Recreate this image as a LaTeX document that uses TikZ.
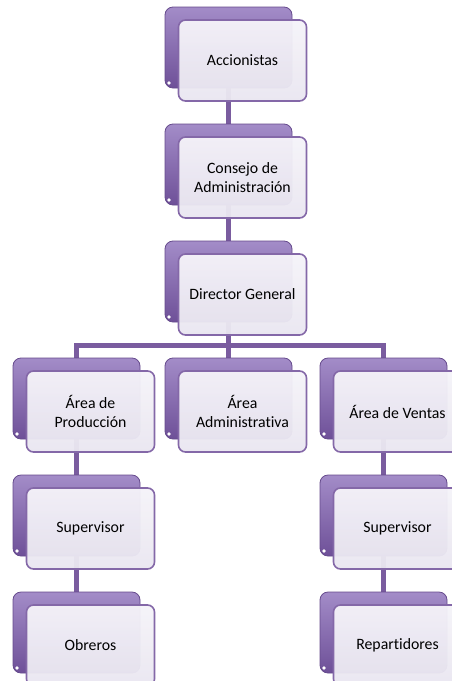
\documentclass[tikz,border=0pt]{standalone}
\usepackage{fontspec}
\setmainfont{Carlito}[RawFeature={-liga;-calt;-dlig}]
\usetikzlibrary{backgrounds}

\definecolor{platetop}{HTML}{A38CC8}
\definecolor{platebot}{HTML}{6E5098}
\definecolor{plateline}{HTML}{654A8C}
\definecolor{boxline}{HTML}{8468A8}
\definecolor{boxtop}{HTML}{F5F3F9}
\definecolor{boxbot}{HTML}{E9E6F0}
\definecolor{linkpurple}{HTML}{7A5C9F}

\begin{document}
\begin{tikzpicture}[x=1pt,y=-1pt,
  backbox/.style={rectangle, rounded corners=8pt, minimum width=127pt,
    minimum height=81pt, inner sep=0pt, draw=plateline, line width=0.8pt,
    top color=platetop, bottom color=platebot,
    path picture={\fill[white] ([shift={(4pt,5pt)}]path picture bounding box.south west) circle (1.8pt);}},
  unitbox/.style={rectangle, rounded corners=7pt, minimum width=128pt,
    minimum height=81pt, inner sep=2pt, draw=boxline, line width=1.6pt,
    top color=boxtop, bottom color=boxbot, fill opacity=0.96, text opacity=1,
    align=center, font=\fontsize{15.8}{19}\selectfont},
  link/.style={draw=linkpurple, line width=5pt}]
\useasboundingbox (0,0) rectangle (451,681);

% back plates
\node[backbox] (accb) at (228.5,47.5) {};
\node[backbox] (conb) at (228.5,164.5) {};
\node[backbox] (dirb) at (228.5,281.5) {};
\node[backbox] (prodb) at (76.5,398.5) {};
\node[backbox] (admb) at (228.5,398.5) {};
\node[backbox] (ventb) at (383.5,398.5) {};
\node[backbox] (sprodb) at (76.5,515.5) {};
\node[backbox] (sventb) at (383.5,515.5) {};
\node[backbox] (obrb) at (76.5,632.5) {};
\node[backbox] (repb) at (383.5,632.5) {};

% front boxes
\node[unitbox] (acc) at ([shift={(14pt,-13pt)}]accb.center) {Accionistas};
\node[unitbox] (con) at ([shift={(14pt,-13pt)}]conb.center) {Consejo de\\Administración};
\node[unitbox] (dir) at ([shift={(14pt,-13pt)}]dirb.center) {Director General};
\node[unitbox] (prod) at ([shift={(14pt,-13pt)}]prodb.center) {Área de\\Producción};
\node[unitbox] (adm) at ([shift={(14pt,-13pt)}]admb.center) {Área\\Administrativa};
\node[unitbox] (vent) at ([shift={(14pt,-13pt)}]ventb.center) {Área de Ventas};
\node[unitbox] (sprod) at ([shift={(14pt,-13pt)}]sprodb.center) {Supervisor};
\node[unitbox] (svent) at ([shift={(14pt,-13pt)}]sventb.center) {Supervisor};
\node[unitbox] (obr) at ([shift={(14pt,-13pt)}]obrb.center) {Obreros};
\node[unitbox] (rep) at ([shift={(14pt,-13pt)}]repb.center) {Repartidores};

% connectors
\coordinate (bar) at (0,345);
\begin{pgfonlayer}{background}
\draw[link] (accb) -- (conb);
\draw[link] (conb) -- (dirb);
\draw[link] (dirb) -- (admb);
\draw[link] (prodb) |- (dirb |- bar) -| (ventb);
\draw[link] (prodb) -- (sprodb);
\draw[link] (sprodb) -- (obrb);
\draw[link] (ventb) -- (sventb);
\draw[link] (sventb) -- (repb);
\end{pgfonlayer}
\end{tikzpicture}
\end{document}
